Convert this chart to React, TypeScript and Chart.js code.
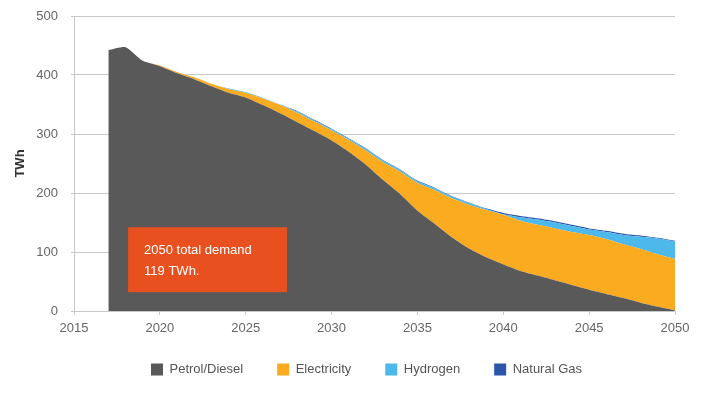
import React, { useEffect, useRef } from "react";
import { Chart, registerables } from "chart.js";

Chart.register(...registerables);

const years = [2017, 2018, 2019, 2020, 2021, 2022, 2023, 2024, 2025, 2026, 2027, 2028, 2029, 2030, 2031, 2032, 2033, 2034, 2035, 2036, 2037, 2038, 2039, 2040, 2041, 2042, 2043, 2044, 2045, 2046, 2047, 2048, 2049, 2050];
const petrolDiesel = [442, 447, 424, 415, 403, 393, 381, 370, 362, 349, 335, 320, 305, 289, 270, 248, 222, 198, 170, 148, 125, 106, 91, 79, 68, 60, 52, 44, 36, 29, 22, 14, 7, 1];
const electricity = [0, 0, 0, 1, 2, 3, 4, 6, 8, 11, 14, 16, 16, 17, 20, 24, 30, 38, 47, 57, 66, 74, 80, 84, 85, 86, 88, 90, 93, 93, 91, 91, 89, 87];
const hydrogen = [0, 0, 0, 0, 0, 0, 0, 1, 1, 1, 1, 2, 2, 2, 2, 3, 3, 3, 3, 3, 3, 3, 2, 1, 6, 9, 10, 10, 9, 12, 16, 21, 27, 30];
const naturalGas = [0, 0, 0, 0, 0, 0, 0, 0, 0, 0, 0, 1, 1, 1, 1, 1, 1, 1, 1, 1, 1, 1, 1, 2, 2, 2, 2, 2, 2, 2, 2, 2, 1, 1];
const yTicks = [0, 100, 200, 300, 400, 500];
const xTicks = [2015, 2020, 2025, 2030, 2035, 2040, 2045, 2050];
const noteLines = ["2050 total demand", "119 TWh."];

const FONT = "'Liberation Sans', Arial, Helvetica, sans-serif";

const toPts = (vals: number[]) => vals.map((v, i) => ({ x: years[i], y: v }));

const notePlugin = {
  id: "noteBox",
  afterLayout(chart: any) {
    const lg = chart.legend;
    if (lg) {
      lg.left += 29;
      lg.right += 29;
      lg.top -= 9;
      lg.bottom -= 9;
    }
  },
  afterDatasetsDraw(chart: any) {
    const { ctx, scales } = chart;
    const xs = scales.x;
    const ys = scales.y;
    const x1 = xs.getPixelForValue(2018.15);
    const x2 = xs.getPixelForValue(2027.4);
    const y1 = ys.getPixelForValue(142);
    const y2 = ys.getPixelForValue(32);
    ctx.save();
    ctx.fillStyle = "#E8511F";
    ctx.fillRect(x1, y1, x2 - x1, y2 - y1);
    ctx.fillStyle = "#ffffff";
    ctx.font = `13px ${FONT}`;
    ctx.textBaseline = "middle";
    ctx.textAlign = "left";
    ctx.fillText(noteLines[0], x1 + 16, y1 + 23);
    ctx.fillText(noteLines[1], x1 + 16, y1 + 44);
    ctx.restore();
  },
};

export default function App() {
  const ref = useRef<HTMLCanvasElement | null>(null);
  useEffect(() => {
    if (!ref.current) return;
    const common = { pointRadius: 0, borderWidth: 0, tension: 0.2 };
    const chart = new Chart(ref.current, {
      type: "line",
      data: {
        datasets: [
          { label: "Petrol/Diesel", data: toPts(petrolDiesel), backgroundColor: "#595959", borderColor: "#595959", fill: "origin", ...common },
          { label: "Electricity", data: toPts(electricity), backgroundColor: "#FBAB1F", borderColor: "#FBAB1F", fill: "-1", ...common },
          { label: "Hydrogen", data: toPts(hydrogen), backgroundColor: "#4DB8EA", borderColor: "#4DB8EA", fill: "-1", ...common },
          { label: "Natural Gas", data: toPts(naturalGas), backgroundColor: "#2B55A8", borderColor: "#2B55A8", fill: "-1", ...common },
        ],
      },
      options: {
        animation: false,
        responsive: false,
        maintainAspectRatio: false,
        layout: { padding: { top: 16, right: 45, left: 0, bottom: 0 } },
        plugins: {
          tooltip: { enabled: false },
          legend: {
            position: "bottom",
            labels: {
              boxWidth: 12,
              boxHeight: 12,
              padding: 34,
              color: "#555555",
              font: { family: FONT, size: 13 },
            },
          },
        },
        scales: {
          x: {
            type: "linear",
            min: 2015,
            max: 2050,
            afterBuildTicks: (s: any) => { s.ticks = xTicks.map((v) => ({ value: v })); },
            afterFit: (s: any) => { s.height = 27; },
            grid: { drawOnChartArea: false, drawTicks: true, tickLength: 4, color: "#c8c8c8" },
            border: { color: "#c8c8c8" },
            ticks: { color: "#666666", font: { family: FONT, size: 13 }, padding: 6, maxRotation: 0, callback: (v: any) => String(v) },
          },
          y: {
            stacked: true,
            min: 0,
            max: 500,
            afterBuildTicks: (s: any) => { s.ticks = yTicks.map((v) => ({ value: v })); },
            afterFit: (s: any) => { s.width = 74; s.paddingTop = 0; s.paddingBottom = 0; },
            grid: { color: "#c8c8c8", tickLength: 3 },
            border: { color: "#c8c8c8" },
            title: { display: true, text: "TWh", color: "#333333", font: { family: FONT, size: 13, weight: "bold" }, padding: { top: 13, bottom: 0 } },
            ticks: { color: "#666666", font: { family: FONT, size: 13 }, padding: 13 },
          },
        },
      },
      plugins: [notePlugin],
    });
    return () => chart.destroy();
  }, []);
  return (
    <div style={{ position: "fixed", left: 0, top: 0, width: 720, height: 395, background: "#fff" }}>
      <canvas ref={ref} width={720} height={395} style={{ width: 720, height: 395 }} />
    </div>
  );
}
